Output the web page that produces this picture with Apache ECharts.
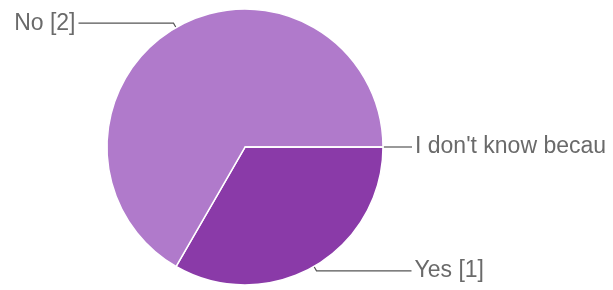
<!DOCTYPE html>
<html>
<head>
    <meta charset="utf-8">
    <title>ECharts</title>
    <script src="https://cdn.jsdelivr.net/npm/echarts@6/dist/echarts.min.js"></script>
</head>
<body>
<style>
    html, body, #main {
        width: 100%;
        padding: 0;
        margin: 0;
        height: 100%;
    }
</style>
<div id="main"></div>
<script type="text/javascript">
    // answers and counts, in clockwise order from 3 o'clock
    var answers = ['Yes', 'No', "I don't know becau"];
    var counts = [1, 2, 0];
    var colors = ['#8a3aa8', '#b07acb', '#c9a3dc'];
    var lineLen2 = [95, 95, 24];

    var myChart = echarts.init(document.getElementById('main'));

    var pieData = answers.map(function (name, i) {
        return {
            name: name,
            value: counts[i],
            itemStyle: {color: colors[i]},
            labelLine: {length: 5, length2: lineLen2[i]}
        };
    });

    myChart.setOption({
        animation: false,
        series: [
            {
                type: 'pie',
                center: [245, 147],
                radius: 138,
                startAngle: 0,
                clockwise: true,
                avoidLabelOverlap: false,
                data: pieData,
                itemStyle: {
                    borderColor: '#fff',
                    borderWidth: 1.5
                },
                label: {
                    formatter: '{b} [{c}]',
                    color: '#6a6a6a',
                    fontSize: 23,
                    fontFamily: 'Liberation Sans, Arial, sans-serif',
                    overflow: 'none',
                    distanceToLabelLine: 3
                },
                labelLine: {
                    lineStyle: {color: '#555', width: 1.2}
                },
                emphasis: {disabled: true}
            }
        ]
    });

    window.onresize = function () {
        myChart.resize();
    };
</script>
</body>
</html>
